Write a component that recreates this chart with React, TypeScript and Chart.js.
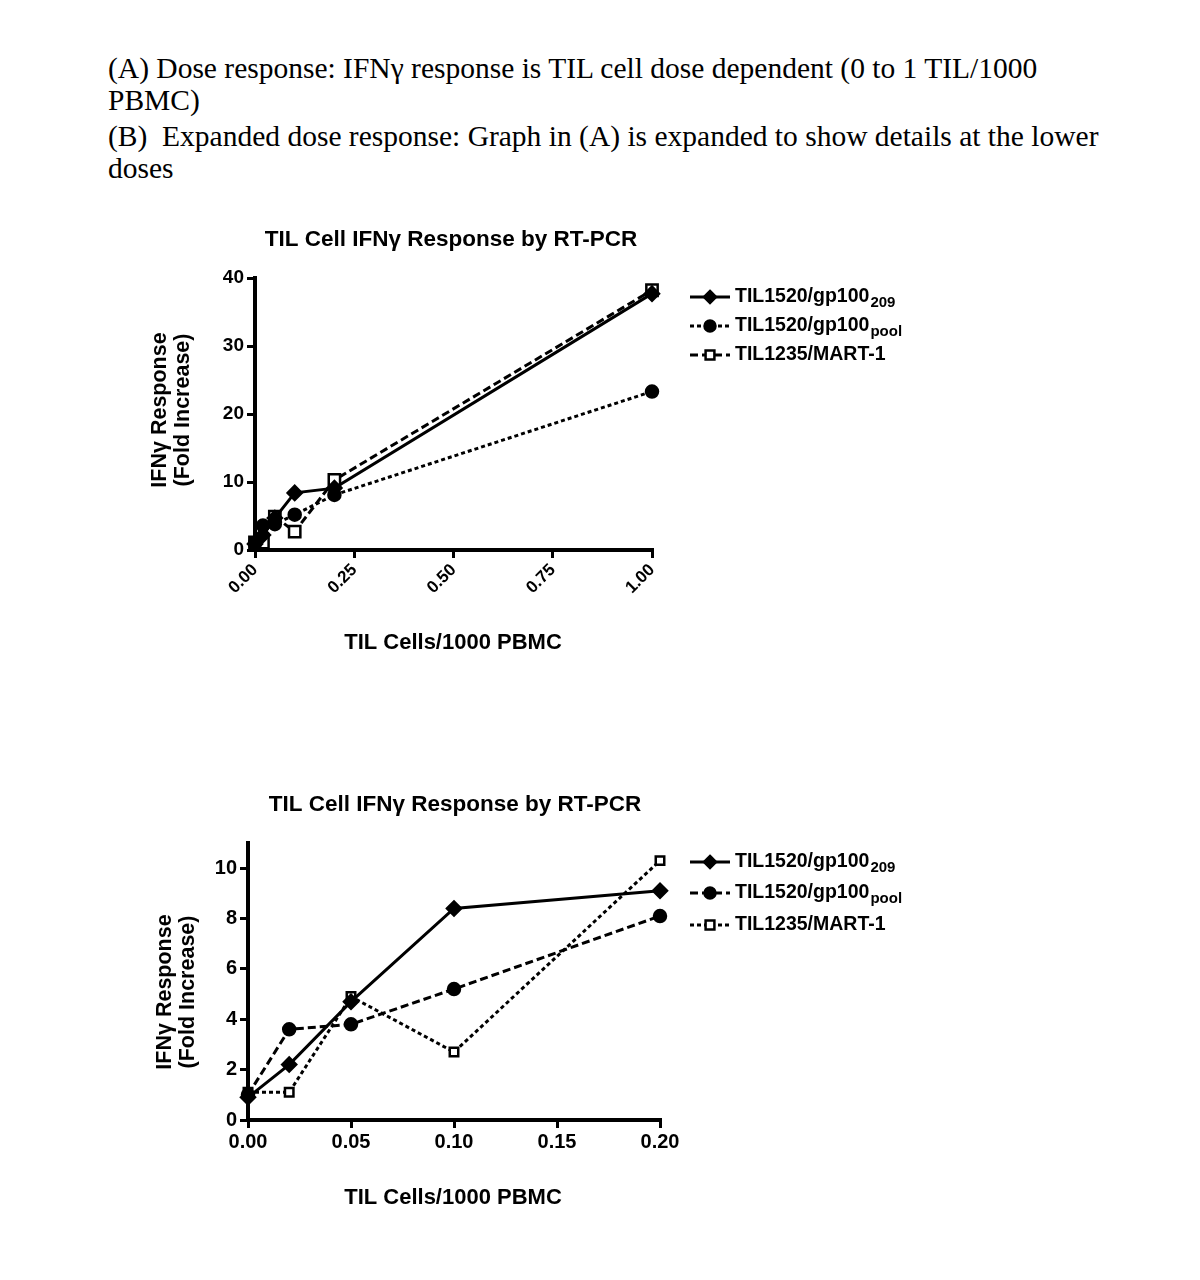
import React, { useEffect, useRef } from "react";
import { Chart, registerables } from "chart.js";
Chart.register(...registerables);

// ---- data ----
const doses = [0, 0.02, 0.05, 0.1, 0.2, 1.0];
const gp100_209 = [0.9, 2.2, 4.7, 8.4, 9.1, 37.7];
const gp100_pool = [1.0, 3.6, 3.8, 5.2, 8.1, 23.3];
const mart1 = [1.1, 1.1, 4.9, 2.7, 10.3, 38.2];

const topXTicks = [0, 0.25, 0.5, 0.75, 1.0];
const topYTicks = [0, 10, 20, 30, 40];
const botXTicks = [0, 0.05, 0.1, 0.15, 0.2];
const botYTicks = [0, 2, 4, 6, 8, 10];

const chartTitle = "TIL Cell IFN\u03b3 Response by RT-PCR";
const xTitle = "TIL Cells/1000 PBMC";
const yTitle = ["IFN\u03b3 Response", "(Fold Increase)"];
const seriesNames = [
  { main: "TIL1520/gp100", sub: "209" },
  { main: "TIL1520/gp100", sub: "pool" },
  { main: "TIL1235/MART-1", sub: "" },
];
const headerA1 = "(A) Dose response: IFN\u03b3 response is TIL cell dose dependent (0 to 1 TIL/1000";
const headerA2 = "PBMC)";
const headerB1 = "(B)\u00a0 Expanded dose response: Graph in (A) is expanded to show details at the lower";
const headerB2 = "doses";

const FONT = "'Liberation Sans', Arial, sans-serif";

type Style = { dash: number[]; point: string; fill: string; r: number };

function drawMarker(ctx: CanvasRenderingContext2D, kind: string, x: number, y: number, fill: string, r: number) {
  ctx.save();
  ctx.setLineDash([]);
  ctx.lineWidth = 2.5;
  ctx.strokeStyle = "#000";
  ctx.fillStyle = fill;
  ctx.beginPath();
  if (kind === "rectRot") {
    ctx.moveTo(x, y - r);
    ctx.lineTo(x + r, y);
    ctx.lineTo(x, y + r);
    ctx.lineTo(x - r, y);
    ctx.closePath();
  } else if (kind === "circle") {
    ctx.arc(x, y, r, 0, Math.PI * 2);
  } else {
    ctx.rect(x - r * 0.8, y - r * 0.8, r * 1.6, r * 1.6);
  }
  ctx.fill();
  ctx.stroke();
  ctx.restore();
}

function makeTextPlugin(cfg: any) {
  return {
    id: "customText",
    afterDraw(chart: any) {
      const ctx: CanvasRenderingContext2D = chart.ctx;
      ctx.save();
      ctx.fillStyle = "#000";
      ctx.textBaseline = "middle";
      // title
      ctx.font = `bold 22.5px ${FONT}`;
      ctx.textAlign = "center";
      ctx.fillText(chartTitle, cfg.titleX, cfg.titleY);
      // x title
      ctx.font = `bold 22px ${FONT}`;
      ctx.fillText(xTitle, cfg.xTitleX, cfg.xTitleY);
      // y title
      ctx.font = `bold 21.5px ${FONT}`;
      yTitle.forEach((t, i) => {
        ctx.save();
        ctx.translate(cfg.yTitleX[i], cfg.yTitleY);
        ctx.rotate(-Math.PI / 2);
        ctx.fillText(t, 0, 0);
        ctx.restore();
      });
      // legend
      cfg.styles.forEach((s: Style, i: number) => {
        const y = cfg.legendY[i];
        const x0 = cfg.legendX;
        ctx.save();
        ctx.lineWidth = 3;
        ctx.strokeStyle = "#000";
        ctx.setLineDash(s.dash);
        ctx.beginPath();
        ctx.moveTo(x0, y);
        ctx.lineTo(x0 + 40, y);
        ctx.stroke();
        ctx.restore();
        drawMarker(ctx, s.point, x0 + 20, y, s.fill, s.point === "rectRot" ? 6 : 5.5);
        ctx.textAlign = "left";
        ctx.font = `bold 19.5px ${FONT}`;
        const tx = x0 + 45;
        ctx.fillText(seriesNames[i].main, tx, y);
        const w = ctx.measureText(seriesNames[i].main).width;
        if (seriesNames[i].sub) {
          ctx.font = `bold 15px ${FONT}`;
          ctx.fillText(seriesNames[i].sub, tx + w + 1, y + 6);
        }
      });
      ctx.restore();
    },
  };
}

function makeChart(canvas: HTMLCanvasElement, cfg: any) {
  const seriesVals = [gp100_209, gp100_pool, mart1];
  const datasets = seriesVals.map((vals, i) => {
    const s: Style = cfg.styles[i];
    return {
      label: seriesNames[i].main + seriesNames[i].sub,
      data: doses.map((x, k) => ({ x, y: vals[k] })).filter((p) => p.x <= cfg.xMax + 1e-9),
      borderColor: "#000",
      backgroundColor: s.fill,
      borderWidth: 3,
      borderDash: s.dash,
      pointStyle: s.point,
      pointRadius: s.r,
      pointBorderWidth: 2.5,
      pointBackgroundColor: s.fill,
      pointBorderColor: "#000",
      tension: 0,
      clip: false as any,
    };
  });
  return new Chart(canvas, {
    type: "scatter",
    data: { datasets: datasets as any },
    options: {
      animation: false,
      responsive: false,
      devicePixelRatio: 1,
      showLine: true,
      layout: { padding: cfg.padding },
      plugins: { legend: { display: false }, title: { display: false }, tooltip: { enabled: false } },
      scales: {
        x: {
          type: "linear",
          min: 0,
          max: cfg.xMax,
          afterFit: (s: any) => { s.height = cfg.xAxisH; },
          afterBuildTicks: (s: any) => { s.ticks = cfg.xTicks.map((v: number) => ({ value: v })); },
          grid: { drawOnChartArea: false, drawTicks: true, tickLength: 8, lineWidth: 3, color: "#000" },
          border: { display: true, width: 4, color: "#000" },
          ticks: {
            color: "#000",
            font: { family: FONT, weight: "bold", size: cfg.xTickSize },
            minRotation: cfg.xRot,
            maxRotation: cfg.xRot,
            padding: 2,
            callback: (v: any) => Number(v).toFixed(2),
          },
        },
        y: {
          type: "linear",
          min: 0,
          max: cfg.yMax,
          afterFit: (s: any) => { s.width = 60; },
          afterBuildTicks: (s: any) => { s.ticks = cfg.yTicks.map((v: number) => ({ value: v })); },
          grid: { drawOnChartArea: false, drawTicks: true, tickLength: 8, lineWidth: 3, color: "#000" },
          border: { display: true, width: 4, color: "#000" },
          ticks: {
            color: "#000",
            font: { family: FONT, weight: "bold", size: cfg.yTickSize },
            padding: 3,
          },
        },
      },
    } as any,
    plugins: [makeTextPlugin(cfg)],
  });
}

const topCfg = {
  xMax: 1.0,
  yMax: 40,
  xTicks: topXTicks,
  yTicks: topYTicks,
  xRot: 45,
  xTickSize: 17,
  yTickSize: 19,
  xAxisH: 80,
  padding: { left: 195, right: 548, top: 78, bottom: 50 },
  styles: [
    { dash: [], point: "rectRot", fill: "#000", r: 7 },
    { dash: [4, 3], point: "circle", fill: "#000", r: 6 },
    { dash: [8, 4], point: "rect", fill: "#fff", r: 8 },
  ],
  titleX: 451, titleY: 40,
  xTitleX: 453, xTitleY: 443,
  yTitleX: [160, 183], yTitleY: 210,
  legendX: 690, legendY: [97, 126, 155],
};

const botCfg = {
  xMax: 0.2,
  yMax: 11,
  xTicks: botXTicks,
  yTicks: botYTicks,
  xRot: 0,
  xTickSize: 20,
  yTickSize: 20,
  xAxisH: 60,
  padding: { left: 188, right: 540, top: 73, bottom: 60 },
  styles: [
    { dash: [], point: "rectRot", fill: "#000", r: 7 },
    { dash: [8, 4], point: "circle", fill: "#000", r: 6 },
    { dash: [4, 3], point: "rect", fill: "#fff", r: 6 },
  ],
  titleX: 455, titleY: 35,
  xTitleX: 453, xTitleY: 428,
  yTitleX: [165, 188], yTitleY: 222,
  legendX: 690, legendY: [92, 123, 155],
};

export default function App() {
  const ref1 = useRef<HTMLCanvasElement>(null);
  const ref2 = useRef<HTMLCanvasElement>(null);
  useEffect(() => {
    const c1 = makeChart(ref1.current!, topCfg);
    const c2 = makeChart(ref2.current!, botCfg);
    return () => { c1.destroy(); c2.destroy(); };
  }, []);
  const pStyle: React.CSSProperties = { margin: 0, whiteSpace: "nowrap" };
  return (
    <div style={{ position: "absolute", left: 0, top: 0, width: 1200, height: 1280, background: "#fff", overflow: "hidden" }}>
      <div style={{ position: "absolute", left: 108, top: 52, fontFamily: "'Liberation Serif', 'Times New Roman', serif", fontSize: 29.5, lineHeight: "32px", color: "#000" }}>
        <p style={pStyle}>{headerA1}<br />{headerA2}</p>
        <p style={{ ...pStyle, marginTop: 4 }}>{headerB1}<br />{headerB2}</p>
      </div>
      <canvas ref={ref1} width={1200} height={480} style={{ position: "absolute", left: 0, top: 200, width: 1200, height: 480 }} />
      <canvas ref={ref2} width={1200} height={470} style={{ position: "absolute", left: 0, top: 770, width: 1200, height: 470 }} />
    </div>
  );
}
